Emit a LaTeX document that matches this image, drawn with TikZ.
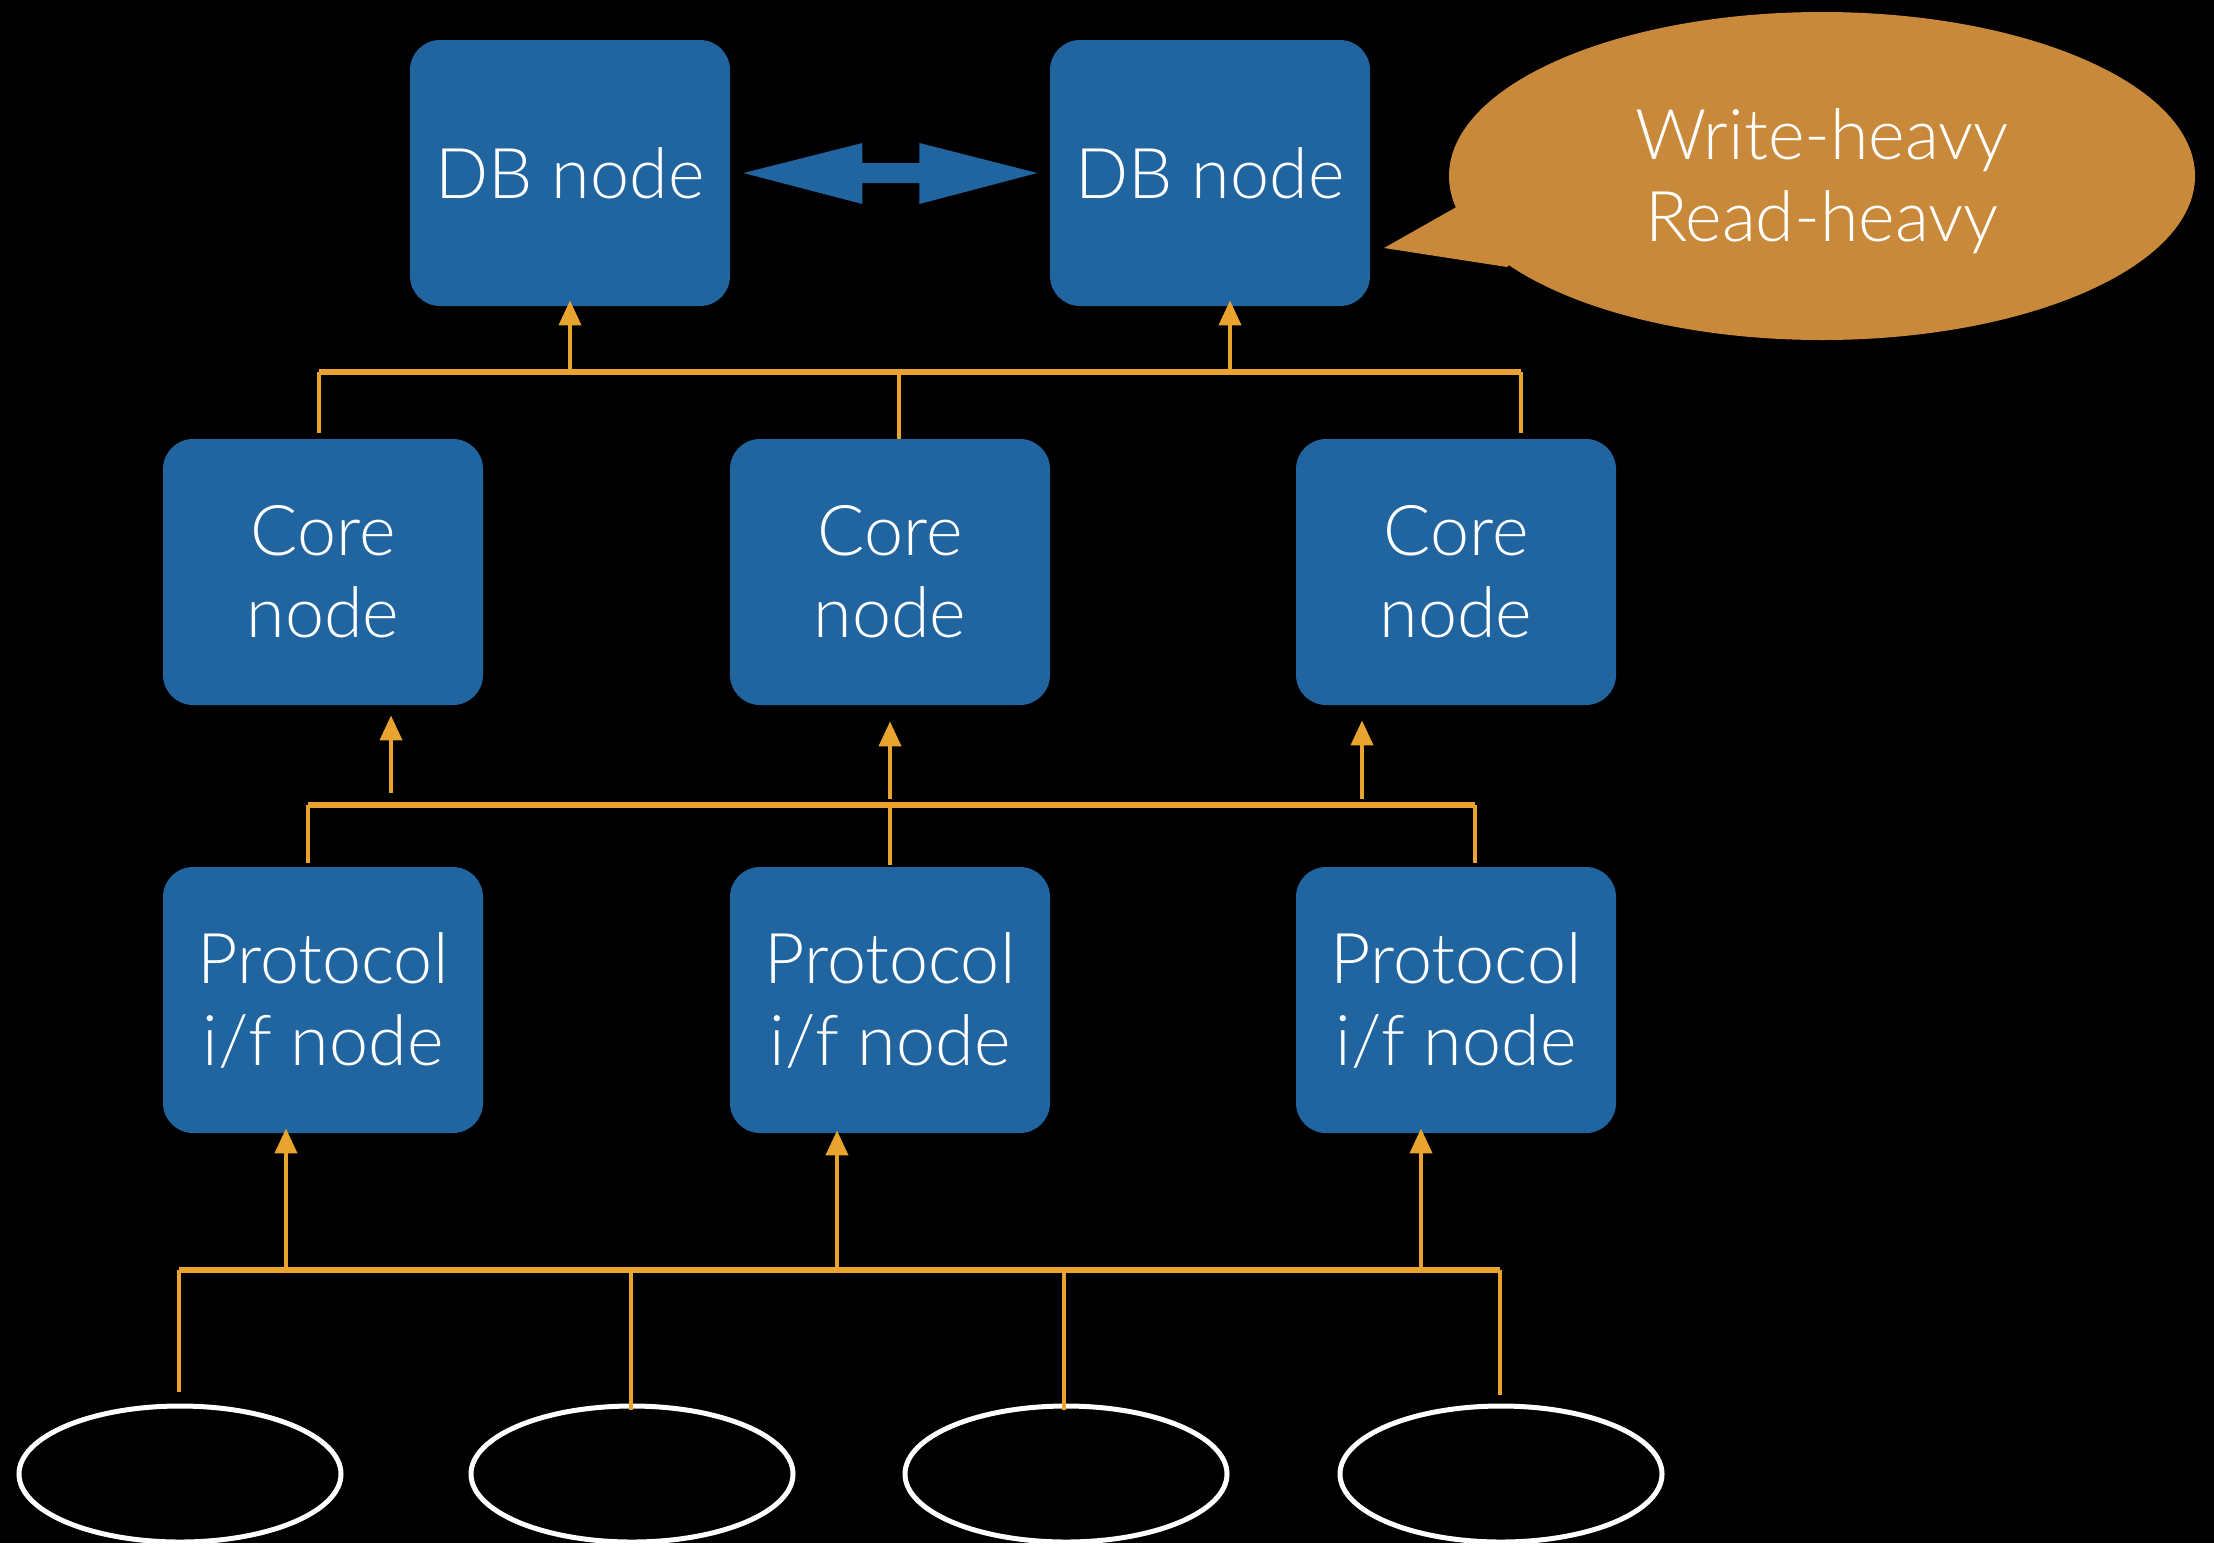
\documentclass[tikz,border=0pt]{standalone}
\usepackage{fontspec}
\setmainfont{Lato Light}
\usetikzlibrary{arrows.meta,shapes.geometric,calc}
\definecolor{nodeblue}{RGB}{32,100,160}
\definecolor{wire}{RGB}{233,164,48}
\definecolor{bubble}{RGB}{200,137,58}
\begin{document}
\begin{tikzpicture}[x=0.5pt,y=-0.5pt,
  box/.style={rectangle, rounded corners=15pt, fill=nodeblue, minimum width=160pt, minimum height=133pt, align=center, text=white, inner sep=0pt, font=\fontsize{35}{41}\selectfont},
  client/.style={ellipse, draw=white, line width=2.5pt, minimum width=161pt, minimum height=68pt, inner sep=0pt},
  bus/.style={draw=wire, line width=2.7pt},
  drop/.style={draw=wire, line width=2pt},
  arr/.style={draw=wire, line width=2pt, -{Triangle[length=12.5pt,width=11pt]}}
]
\fill[black] (0,0) rectangle (2214,1543);
\useasboundingbox (0,0) rectangle (2214,1543);

% nodes
\node[box] (db1) at (570,173) {DB node};
\node[box] (db2) at (1210,173) {DB node};
\node[box] (core1) at (323,572) {Core\\node};
\node[box] (core2) at (890,572) {Core\\node};
\node[box] (core3) at (1456,572) {Core\\node};
\node[box] (pif1) at (323,1000) {Protocol\\i/f node};
\node[box] (pif2) at (890,1000) {Protocol\\i/f node};
\node[box] (pif3) at (1456,1000) {Protocol\\i/f node};
\node[client] (c1) at (180,1474) {};
\node[client] (c2) at (632,1474) {};
\node[client] (c3) at (1066,1474) {};
\node[client] (c4) at (1501,1474) {};

% callout
\node[ellipse, fill=bubble, minimum width=373pt, minimum height=164pt, inner sep=0pt] (note) at (1822,176) {};
\node[align=center, text=white, inner sep=0pt, font=\fontsize{35}{41}\selectfont] (notetext) at (1822,181) {Write-heavy\\Read-heavy};
\fill[bubble] (1460,205) -- (1384,248) -- (1507,267) -- (1560,220) -- cycle;

% double arrow between DB nodes
\fill[nodeblue] ($(db1.east)+(13,0)$) -- ++(119,-30) -- ++(0,20) -- ++(57,0) -- ++(0,-20)
  -- ++(118,30) -- ++(-118,31) -- ++(0,-21) -- ++(-57,0) -- ++(0,21) -- cycle;

% top bus: core -> db
\coordinate (tl) at (319,372);
\coordinate (tm) at (899,372);
\coordinate (tr) at (1521,372);
\coordinate (ta1) at (570,372);
\coordinate (ta2) at (1230,372);
\draw[bus] (tl) -- (tr);
\draw[drop, shorten >=3pt] (tl) -- (tl |- core1.north);
\draw[drop, shorten >=0pt] (tm) -- (tm |- core2.north);
\draw[drop, shorten >=3pt] (tr) -- (tr |- core3.north);
\draw[arr, shorten >=-3pt] (ta1) -- (ta1 |- db1.south);
\draw[arr, shorten >=-3pt] (ta2) -- (ta2 |- db2.south);

% middle bus: protocol -> core
\coordinate (ml) at (308,805);
\coordinate (mm) at (890,805);
\coordinate (mr) at (1475,805);
\coordinate (ma1) at (391,805);
\coordinate (ma3) at (1362,805);
\draw[bus] (ml) -- (mr);
\draw[drop, shorten >=2pt] (ml) -- (ml |- pif1.north);
\draw[drop, shorten >=1pt] (mm) -- (mm |- pif2.north);
\draw[drop, shorten >=2pt] (mr) -- (mr |- pif3.north);
\draw[arr, shorten <=6pt, shorten >=5pt] (ma1) -- (ma1 |- core1.south);
\draw[arr, shorten <=3pt, shorten >=8pt] (mm) -- (mm |- core2.south);
\draw[arr, shorten <=3pt, shorten >=7.5pt] (ma3) -- (ma3 |- core3.south);

% bottom bus: clients -> protocol
\coordinate (bl) at (179,1270);
\coordinate (bm1) at (631,1270);
\coordinate (bm2) at (1064,1270);
\coordinate (br) at (1500,1270);
\coordinate (ba1) at (286,1270);
\coordinate (ba2) at (837,1270);
\coordinate (ba3) at (1421,1270);
\draw[bus] (bl) -- (br);
\draw[drop, shorten >=6pt] (bl) -- (bl |- c1.north);
\draw[drop, shorten >=-3pt] (bm1) -- (bm1 |- c2.north);
\draw[drop, shorten >=-3pt] (bm2) -- (bm2 |- c3.north);
\draw[drop, shorten >=4.5pt] (br) -- (br |- c4.north);
\draw[arr, shorten >=-2.5pt] (ba1) -- (ba1 |- pif1.south);
\draw[arr, shorten >=-1.5pt] (ba2) -- (ba2 |- pif2.south);
\draw[arr, shorten >=-2.5pt] (ba3) -- (ba3 |- pif3.south);
\end{tikzpicture}
\end{document}
